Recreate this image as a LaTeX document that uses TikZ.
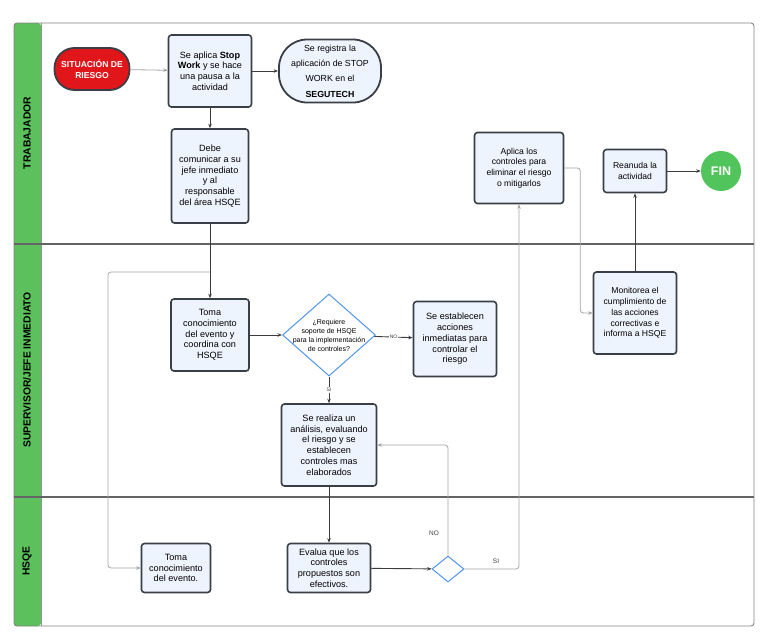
\documentclass[tikz,border=0pt]{standalone}
\usepackage{fontspec}
\setmainfont{Liberation Sans}
\usetikzlibrary{shapes.geometric,arrows.meta}
\definecolor{boxfill}{RGB}{238,244,253}
\definecolor{boxline}{RGB}{58,62,70}
\definecolor{lanegreen}{RGB}{92,192,92}
\definecolor{fingreen}{RGB}{82,196,92}
\definecolor{riskred}{RGB}{224,22,27}
\definecolor{diamblue}{RGB}{80,150,235}
\definecolor{framegray}{RGB}{130,130,130}
\definecolor{lanegray}{RGB}{100,100,100}
\definecolor{condark}{RGB}{60,60,60}
\definecolor{conlight}{RGB}{165,165,165}
\begin{document}
\begin{tikzpicture}[x=1pt,y=-1pt,
  procbox/.style={draw=boxline, line width=1.6pt, fill=boxfill, rounded corners=3pt,
    align=center, inner sep=1pt, font=\fontsize{9.1}{10.7}\selectfont},
  decis/.style={draw=diamblue, line width=1pt, fill=white, diamond, inner sep=0pt},
  condk/.style={draw=condark, line width=0.9pt, -{Stealth[length=4.5pt,width=3.5pt]}},
  conlt/.style={draw=conlight, line width=0.8pt, rounded corners=3pt, -{Stealth[length=4.5pt,width=3.5pt,fill=condark]}},
  edgelbl/.style={font=\fontsize{5}{6}\selectfont, fill=white, inner sep=1pt, text=condark},
  sidelbl/.style={font=\fontsize{6.5}{8}\selectfont, inner sep=1pt, text=condark},
  lanelbl/.style={font=\bfseries\fontsize{10.3}{12}\selectfont, rotate=90}
]
\useasboundingbox (0,0) rectangle (768,640);
% frame and lanes
\fill[lanegreen, rounded corners=3pt] (14,23) rectangle (41,626);
\draw[framegray, line width=0.9pt, rounded corners=3pt] (14,23) rectangle (754,626);
\draw[lanegray!70, line width=0.6pt] (41,23) -- (41,626);
\draw[lanegray, line width=1.4pt] (14,244) -- (754,244);
\draw[lanegray, line width=1.4pt] (14,497) -- (754,497);
\node[lanelbl] (l1) at (27,133) {TRABAJADOR};
\node[lanelbl] (l2) at (27,370) {SUPERVISOR/JEFE INMEDIATO};
\node[lanelbl] (l3) at (27,561) {HSQE};

% nodes
\node[draw=boxline, line width=1.8pt, fill=riskred, rounded corners=20pt,
  minimum width=75pt, minimum height=42pt, align=center, text=white,
  font=\bfseries\fontsize{8.6}{11}\selectfont] (sit) at (92,69) {SITUACIÓN DE\\RIESGO};
\node[procbox, minimum width=83pt, minimum height=72pt] (stop) at (210,71)
  {Se aplica \textbf{Stop}\\\textbf{Work} y se hace\\una pausa a la\\actividad};
\node[procbox, rounded corners=28pt, line width=1.8pt, minimum width=102pt, minimum height=63pt,
  font=\fontsize{8.8}{15.3}\selectfont] (reg) at (330,71)
  {Se registra la\\aplicación de STOP\\WORK en el\\\textbf{SEGUTECH}};
\node[procbox, minimum width=77pt, minimum height=94pt] (debe) at (210,176)
  {Debe\\comunicar a su\\jefe inmediato\\y al\\responsable\\del área HSQE};
\node[procbox, minimum width=89pt, minimum height=71pt, font=\fontsize{8.6}{10.7}\selectfont] (apl) at (519,168)
  {Aplica los\\controles para\\eliminar el riesgo\\o mitigarlos};
\node[procbox, minimum width=63pt, minimum height=43pt, font=\fontsize{8.6}{10.7}\selectfont] (rea) at (635,171)
  {Reanuda la\\actividad};
\node[circle, fill=fingreen, minimum size=40pt, inner sep=0pt, text=white,
  font=\bfseries\fontsize{12.5}{14}\selectfont] (fin) at (721,171) {FIN};

\node[procbox, minimum width=78pt, minimum height=72pt] (toma1) at (210,335)
  {Toma\\conocimiento\\del evento y\\coordina con\\HSQE};
\node[decis, minimum width=93pt, minimum height=82pt] (d1) at (329,335) {};
\node[align=center, font=\fontsize{7}{9}\selectfont, text=black] (d1t) at (d1)
  {¿Requiere\\soporte de HSQE\\para la implementación\\de controles?};
\node[procbox, minimum width=83pt, minimum height=75pt] (est) at (455,339)
  {Se establecen\\acciones\\inmediatas para\\controlar el\\riesgo};
\node[procbox, minimum width=83pt, minimum height=82pt, font=\fontsize{8.6}{10.7}\selectfont] (mon) at (635,313)
  {Monitorea el\\cumplimiento de\\las acciones\\correctivas e\\informa a HSQE};
\node[procbox, minimum width=95pt, minimum height=82pt] (real) at (329,445)
  {Se realiza un\\análisis, evaluando\\el riesgo y se\\establecen\\controles mas\\elaborados};

\node[procbox, minimum width=69pt, minimum height=49pt] (toma2) at (176,568)
  {Toma\\conocimiento\\del evento.};
\node[procbox, minimum width=83pt, minimum height=49pt] (eval) at (329,568)
  {Evalua que los\\controles\\propuestos son\\efectivos.};
\node[decis, minimum width=32pt, minimum height=26pt] (d2) at (448,569) {};

% connectors
\draw[conlt] (sit) -- (stop);
\draw[condk] (stop) -- (reg);
\draw[condk] (stop) -- (debe);
\draw[condk] (debe) -- (toma1);
\coordinate (j1) at (210,272);
\draw[conlt] (j1) -- (108,272) |- (toma2);
\draw[condk] (toma1) -- (d1);
\draw[condk] (d1) -- node[edgelbl] {NO} (est);
\draw[condk] (d1) -- node[edgelbl] {SI} (real);
\draw[condk] (real) -- (eval);
\draw[condk] (eval) -- (d2);
\draw[conlt] (d2.north) |- (real.east);
\node[sidelbl] (nolbl) at (434,533) {NO};
\draw[conlt] (d2.east) -| (apl.south);
\node[sidelbl] (silbl) at (496,561) {SI};
\draw[conlt] (apl.east) -- ++(16,0) |- (mon.west);
\draw[condk] (mon) -- (rea);
\draw[condk] (rea) -- (fin);
\end{tikzpicture}
\end{document}
